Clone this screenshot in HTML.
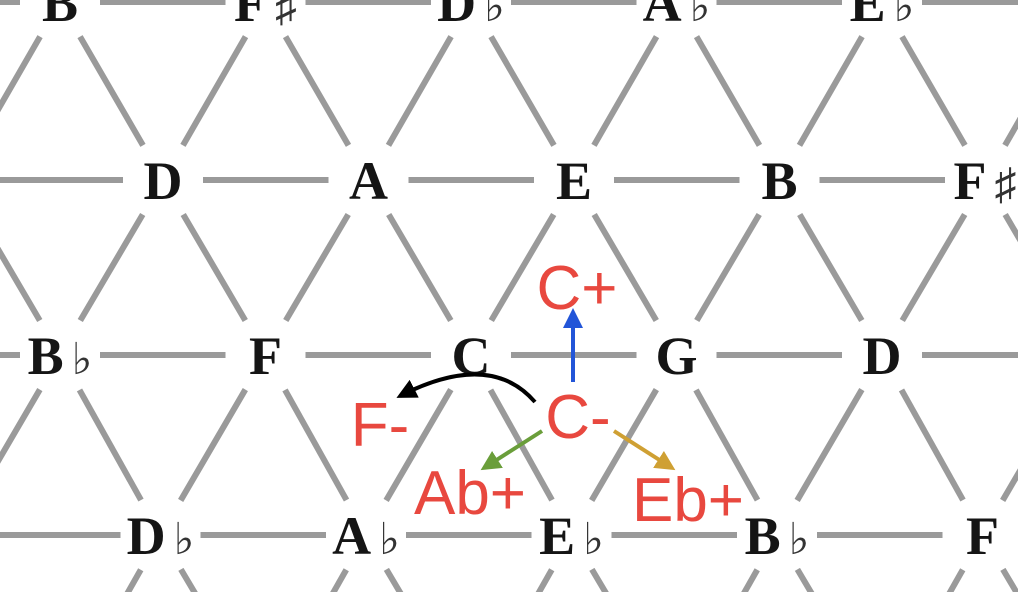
<!DOCTYPE html>
<html><head><meta charset="utf-8"><style>
html,body{margin:0;padding:0;background:#fff;width:1018px;height:592px;overflow:hidden;}
svg{display:block;}
.n{font-family:"Liberation Serif",serif;font-weight:bold;font-size:54px;fill:#151515;}
.fl{font-weight:normal;font-size:44px;fill:#333;}
.r{font-family:"Liberation Sans",sans-serif;font-size:62px;fill:#e8483f;}
</style></head><body>
<svg id="c" width="1018" height="592" viewBox="0 0 1018 592">
<defs>
<marker id="ab" viewBox="0 0 10 10" refX="8" refY="5" markerWidth="5" markerHeight="5" orient="auto"><path d="M0,0L10,5L0,10z" fill="#2255d8"/></marker>
<marker id="ak" viewBox="0 0 10 10" refX="8" refY="5" markerWidth="5" markerHeight="5" orient="auto"><path d="M0,0L10,5L0,10z" fill="#000"/></marker>
<marker id="ag" viewBox="0 0 10 10" refX="8" refY="5" markerWidth="5" markerHeight="5" orient="auto"><path d="M0,0L10,5L0,10z" fill="#6a9e3a"/></marker>
<marker id="ay" viewBox="0 0 10 10" refX="8" refY="5" markerWidth="5" markerHeight="5" orient="auto"><path d="M0,0L10,5L0,10z" fill="#cfa033"/></marker>
</defs>
<g id="lines"></g>
<g id="nodes"></g>
<g>
<text class="r" x="577" y="309" text-anchor="middle">C+</text>
<text class="r" x="578" y="438" text-anchor="middle">C-</text>
<text class="r" x="380" y="446" text-anchor="middle">F-</text>
<text class="r" x="470" y="514" text-anchor="middle">Ab+</text>
<text class="r" x="688" y="521" text-anchor="middle">Eb+</text>
<line x1="573" y1="382" x2="573" y2="312" stroke="#2255d8" stroke-width="4" marker-end="url(#ab)"/>
<path d="M535,402 Q490,350 400,396" fill="none" stroke="#000" stroke-width="4" marker-end="url(#ak)"/>
<line x1="542" y1="431" x2="484" y2="468" stroke="#6a9e3a" stroke-width="4" marker-end="url(#ag)"/>
<line x1="614" y1="431" x2="672" y2="468" stroke="#cfa033" stroke-width="4" marker-end="url(#ay)"/>
</g>
</svg>
<script>
const rowY=[2,180,355,535,712];
const rowX0=[-145.5,-42.5,-145.5,-45,-145.5];
const rowNotes=[
 ["E","B","F♯","D♭","A♭","E♭","B♭"],
 ["G","D","A","E","B","F♯","C♯"],
 ["E♭","B♭","F","C","G","D","A"],
 ["G♭","D♭","A♭","E♭","B♭","F","C"],
 ["B♭","F","C","G","D","A","E"]
];
const step=205.5, gap=40;
const NS="http://www.w3.org/2000/svg";
const L=document.getElementById('lines'), N=document.getElementById('nodes');
function pos(r,k){return [rowX0[r]+k*step,rowY[r]];}
function seg(a,b){
 const dx=b[0]-a[0],dy=b[1]-a[1],d=Math.hypot(dx,dy),ux=dx/d,uy=dy/d;
 const l=document.createElementNS(NS,'line');
 l.setAttribute('x1',a[0]+ux*gap);l.setAttribute('y1',a[1]+uy*gap);
 l.setAttribute('x2',b[0]-ux*gap);l.setAttribute('y2',b[1]-uy*gap);
 l.setAttribute('stroke','#9a9a9a');l.setAttribute('stroke-width','6');
 
 
 L.appendChild(l);
}
for(let r=0;r<rowY.length;r++){
 for(let k=0;k<rowNotes[r].length;k++){
  const p=pos(r,k);
  if(k+1<rowNotes[r].length) seg(p,pos(r,k+1));
  if(r+1<rowY.length){
   for(let j=0;j<rowNotes[r+1].length;j++){
    const q=pos(r+1,j);
    if(Math.abs(Math.abs(q[0]-p[0])-step/2)<5) seg(p,q);
   }
  }
  const t=document.createElementNS(NS,'text');
  t.setAttribute('class','n');t.setAttribute('x',p[0]);t.setAttribute('y',p[1]+19);
  t.setAttribute('text-anchor','middle');
  
  
  const nm=rowNotes[r][k];
  t.appendChild(document.createTextNode(nm[0]));
  if(nm.length>1){const s=document.createElementNS(NS,'tspan');s.setAttribute('class','fl');s.setAttribute('dx','8');s.textContent=nm.slice(1);t.appendChild(s);}
  N.appendChild(t);
 }
}
</script>
</body></html>
